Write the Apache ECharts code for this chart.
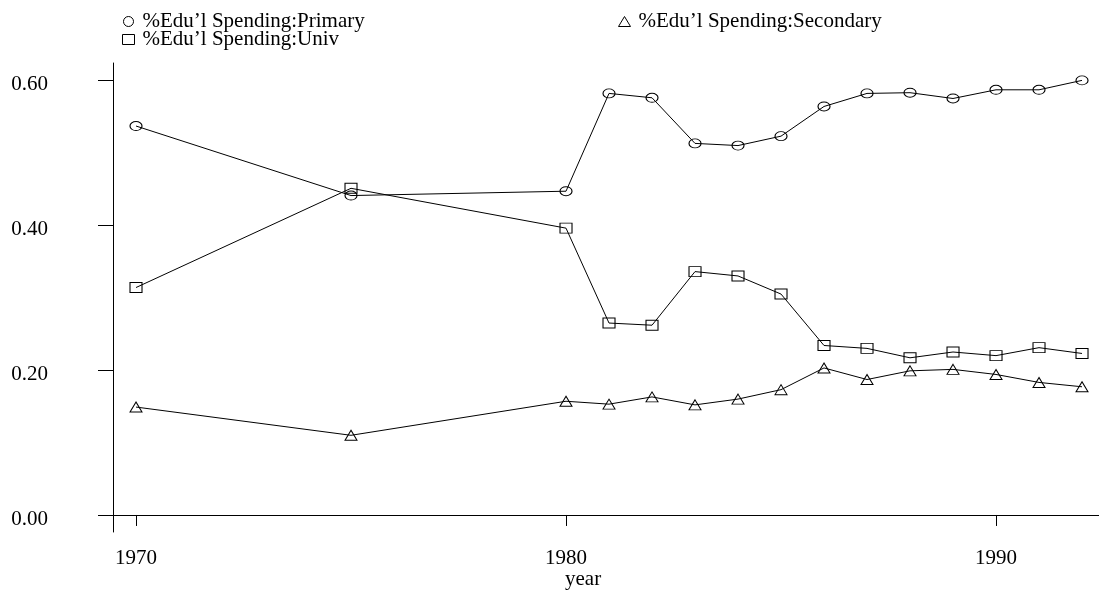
<!DOCTYPE html>
<html>
<head>
<meta charset="utf-8">
<script src="https://cdn.jsdelivr.net/npm/echarts@6/dist/echarts.min.js"></script>
<style>html,body{margin:0;padding:0;background:#fff}#c{width:1099px;height:594px}</style>
</head>
<body>
<div id="c"></div>
<script>
const years = [1970, 1975, 1980, 1981, 1982, 1983, 1984, 1985, 1986, 1987, 1988, 1989, 1990, 1991, 1992];
const primary = [0.537, 0.441, 0.447, 0.582, 0.576, 0.513, 0.510, 0.523, 0.564, 0.582, 0.583, 0.575, 0.587, 0.587, 0.600];
const secondary = [0.149, 0.110, 0.157, 0.153, 0.163, 0.152, 0.160, 0.173, 0.203, 0.187, 0.199, 0.201, 0.194, 0.183, 0.177];
const univ = [0.314, 0.451, 0.396, 0.265, 0.262, 0.336, 0.330, 0.305, 0.234, 0.230, 0.217, 0.225, 0.220, 0.231, 0.223];
const xTicks = [1970, 1980, 1990];
const yTicks = [0, 0.2, 0.4, 0.6];
const names = ['%Edu’l Spending:Primary', '%Edu’l Spending:Secondary', '%Edu’l Spending:Univ'];

const FONT = 'Liberation Serif';
const FS = 21;
const hollow = {color: 'rgba(0,0,0,0)', borderColor: '#000', borderWidth: 1};
function pairs(v) { return years.map((y, i) => [y, v[i]]); }
function mk(name, data, symbol, size) {
  return {
    name: name, type: 'line', data: pairs(data), symbol: symbol, symbolSize: size,
    showAllSymbol: true, lineStyle: {color: '#000', width: 1}, itemStyle: hollow,
    emphasis: {disabled: true}, animation: false, z: 2
  };
}
const legendCommon = {
  orient: 'vertical', itemWidth: 12, itemHeight: 10, itemGap: -3,
  textStyle: {fontFamily: FONT, fontSize: FS, color: '#000', lineHeight: 18, padding: [0, 0, 0, 3]},
  selectedMode: false
};
const chart = echarts.init(document.getElementById('c'), null, {renderer: 'canvas'});
chart.setOption({
  backgroundColor: '#fff',
  animation: false,
  grid: {left: 113, right: 0, top: 63, bottom: 62, containLabel: false},
  legend: [
    Object.assign({}, legendCommon, {left: 117, top: 6, data: [
      {name: names[0], icon: 'circle', itemStyle: hollow},
      {name: names[2], icon: 'rect', itemStyle: hollow}
    ]}),
    Object.assign({}, legendCommon, {left: 613, top: 6, data: [
      {name: names[1], icon: 'triangle', itemStyle: hollow}
    ]})
  ],
  xAxis: {
    type: 'value', min: 1969.465, max: 1992.395,
    axisLine: {show: true, lineStyle: {color: '#000', width: 1}},
    axisTick: {show: true, length: 11, customValues: xTicks, lineStyle: {color: '#000'}},
    axisLabel: {customValues: xTicks, fontFamily: FONT, fontSize: FS, color: '#000', margin: 16,
      formatter: v => String(v)},
    splitLine: {show: false}
  },
  yAxis: {
    type: 'value', min: -0.0235, max: 0.624,
    axisLine: {show: true, lineStyle: {color: '#000', width: 1}},
    axisTick: {show: true, length: 15, customValues: yTicks, lineStyle: {color: '#000'}},
    axisLabel: {customValues: yTicks, fontFamily: FONT, fontSize: FS, color: '#000', margin: 65,
      verticalAlign: 'top', lineHeight: 9, formatter: v => v.toFixed(2)},
    splitLine: {show: false}
  },
  graphic: [{type: 'text', left: 565, top: 569, style: {text: 'year', font: FS + 'px "Liberation Serif"', fill: '#000'}}],
  series: [
    mk(names[0], primary, 'circle', [12, 9]),
    mk(names[1], secondary, 'triangle', [12, 10]),
    mk(names[2], univ, 'rect', [12, 10])
  ]
});
</script>
</body>
</html>
